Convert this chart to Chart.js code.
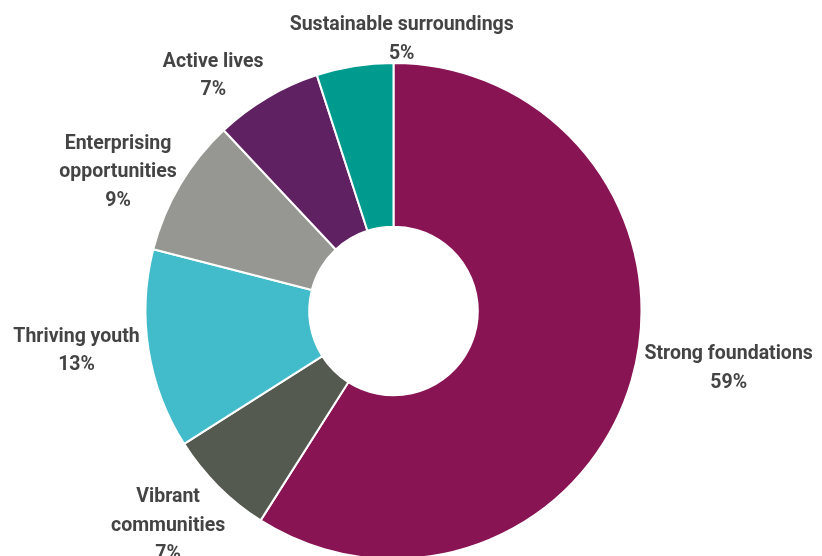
<!DOCTYPE html>
<html>
<head>
<meta charset="utf-8">
<script src="https://cdn.jsdelivr.net/npm/chart.js@4.4.1/dist/chart.umd.min.js"></script>
<style>
  html, body { margin: 0; padding: 0; background: #fff; }
  #wrap { width: 822px; height: 556px; overflow: hidden; position: relative; }
  #wrap canvas { display: block; }
</style>
</head>
<body>
<div id="wrap"><canvas id="pieChart" width="822" height="600"></canvas></div>
<script>
// data
var categories = [
    ['Strong foundations'],
    ['Vibrant', 'communities'],
    ['Thriving youth'],
    ['Enterprising', 'opportunities'],
    ['Active lives'],
    ['Sustainable surroundings']
];
var shares = [59, 7, 13, 9, 7, 5];
var sliceColors = ['#881453', '#555a50', '#42bbca', '#969792', '#5f2162', '#009b8f'];

// label nudges from the slice's outer mid point (to centre x / first baseline)
var labelNudge = [[97, -21], [-50, 16], [-72, -8], [-62, -36], [-54, -31], [47, -36]];

var outsideLabels = {
    id: 'outsideLabels',
    afterDatasetsDraw: function(chart) {
        var ctx = chart.ctx;
        var meta = chart.getDatasetMeta(0);
        var total = shares.reduce((a, b) => a + b, 0);
        ctx.save();
        ctx.font = 'bold 19.5px Roboto';
        ctx.fillStyle = '#444444';
        ctx.textAlign = 'center';
        ctx.textBaseline = 'alphabetic';
        meta.data.forEach(function(arc, i) {
            var mid = (arc.startAngle + arc.endAngle) / 2;
            var x = arc.x + Math.cos(mid) * arc.outerRadius + labelNudge[i][0];
            var y = arc.y + Math.sin(mid) * arc.outerRadius + labelNudge[i][1];
            var lines = categories[i].concat([Math.round(shares[i] / total * 100) + '%']);
            lines.forEach(function(line, j) {
                ctx.fillText(line, x, y + j * 28.5);
            });
        });
        ctx.restore();
    }
};

var ctx = document.getElementById('pieChart').getContext('2d');
var pieChart = new Chart(ctx, {
    type: 'doughnut',
    data: {
        labels: categories,
        datasets: [{
            data: shares,
            backgroundColor: sliceColors,
            borderColor: '#ffffff',
            borderWidth: 2
        }]
    },
    options: {
        responsive: false,
        animation: false,
        cutout: '34%',
        layout: {
            padding: { left: 144.5, right: 179.5, top: 62, bottom: 40 }
        },
        plugins: {
            legend: { display: false },
            tooltip: { enabled: false }
        }
    },
    plugins: [outsideLabels]
});
</script>
</body>
</html>
